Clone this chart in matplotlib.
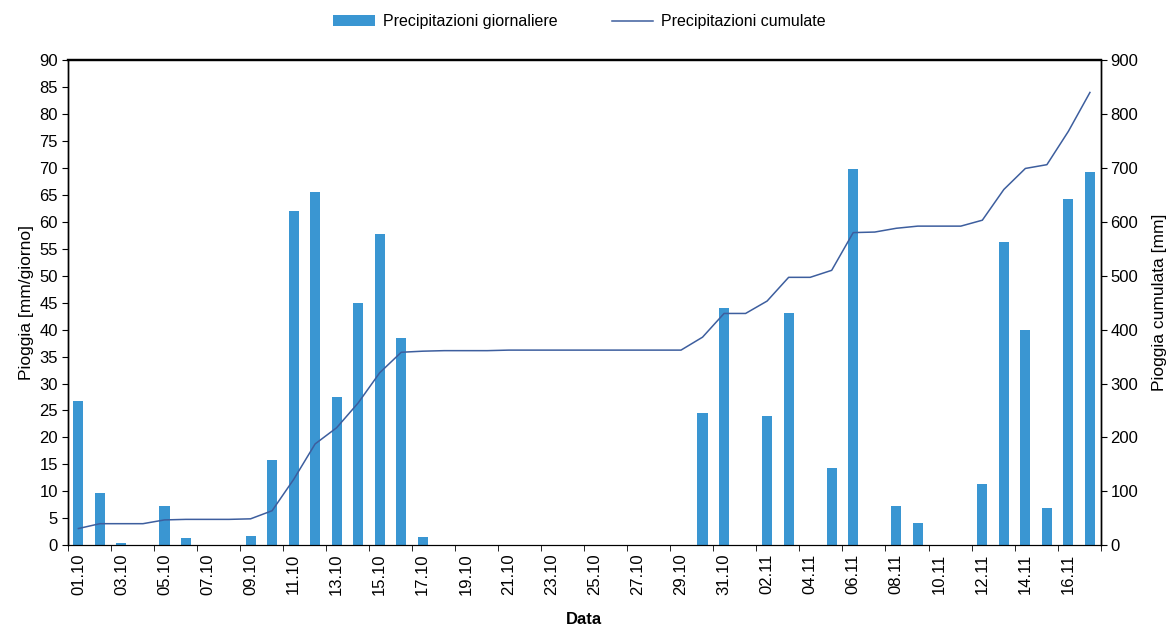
import matplotlib.pyplot as plt
import numpy as np

plt.rcParams['font.family'] = ['Liberation Sans', 'DejaVu Sans']

# giorni dal 01.10 al 17.11
giorni = ["%02d.10" % d for d in range(1, 32)] + ["%02d.11" % d for d in range(1, 18)]

pioggia_giornaliera = [26.8, 9.7, 0.4, 0, 7.3, 1.3, 0, 0, 1.7, 15.8,
                       62, 65.5, 27.5, 44.9, 57.7, 38.5, 1.5,
                       0, 0, 0, 0, 0, 0, 0, 0, 0, 0, 0, 0,
                       24.5, 44, 0, 24, 43.1, 0, 14.3, 69.8, 0, 7.2, 4.1,
                       0, 0, 11.3, 56.2, 39.9, 6.9, 64.2, 69.3]

pioggia_cumulata = [31, 40, 40, 40, 47, 48, 48, 48, 49, 64,
                    122, 188, 218, 264, 320, 358, 360,
                    361, 361, 361, 362, 362, 362, 362, 362, 362, 362, 362, 362,
                    386, 430, 430, 453, 497, 497, 510, 580, 581, 588, 592,
                    592, 592, 603, 660, 699, 706, 768, 840]

x = np.arange(len(giorni))

fig = plt.figure(figsize=(11.66, 6.26), dpi=100)
ax = fig.add_axes([0.058, 0.129, 0.886, 0.775])

barre = ax.bar(x, pioggia_giornaliera, width=0.47, color='#3a96d2',
               label='Precipitazioni giornaliere', zorder=2)
ax.set_xlim(-0.5, len(giorni) - 0.5)
ax.set_ylim(0, 90)
ax.set_yticks(np.arange(0, 91, 5))
ax.set_ylabel('Pioggia [mm/giorno]', fontsize=12.5, labelpad=4)

ax.set_xticks(x[::2])
ax.set_xticklabels(giorni[::2], rotation=90, fontsize=12)
ax.set_xticks(np.arange(-0.5, len(giorni), 2), minor=True)
ax.tick_params(axis='x', which='major', length=0, pad=6)
ax.tick_params(axis='x', which='minor', length=4)
ax.tick_params(axis='y', labelsize=12, length=4, pad=3)
ax.set_xlabel('Data', fontsize=12, fontweight='bold', labelpad=12)

ax2 = ax.twinx()
linea, = ax2.plot(x, pioggia_cumulata, color='#3d5e9e', linewidth=1.1,
                  label='Precipitazioni cumulate', zorder=3)
ax2.set_ylim(0, 900)
ax2.set_yticks(np.arange(0, 901, 100))
ax2.set_ylabel('Pioggia cumulata [mm]', fontsize=12.5, labelpad=10)
ax2.tick_params(axis='y', labelsize=12, length=4, pad=3)

for a in (ax, ax2):
    a.spines['top'].set_linewidth(1.6)
    a.spines['left'].set_linewidth(1.0)
    a.spines['right'].set_linewidth(1.0)

fig.legend(handles=[barre, linea], loc='center', bbox_to_anchor=(0.497, 0.965),
           ncol=2, frameon=False, fontsize=11.5, handlelength=2.6,
           handletextpad=0.5, columnspacing=3.4)

fig.savefig('out.png', dpi=100)
